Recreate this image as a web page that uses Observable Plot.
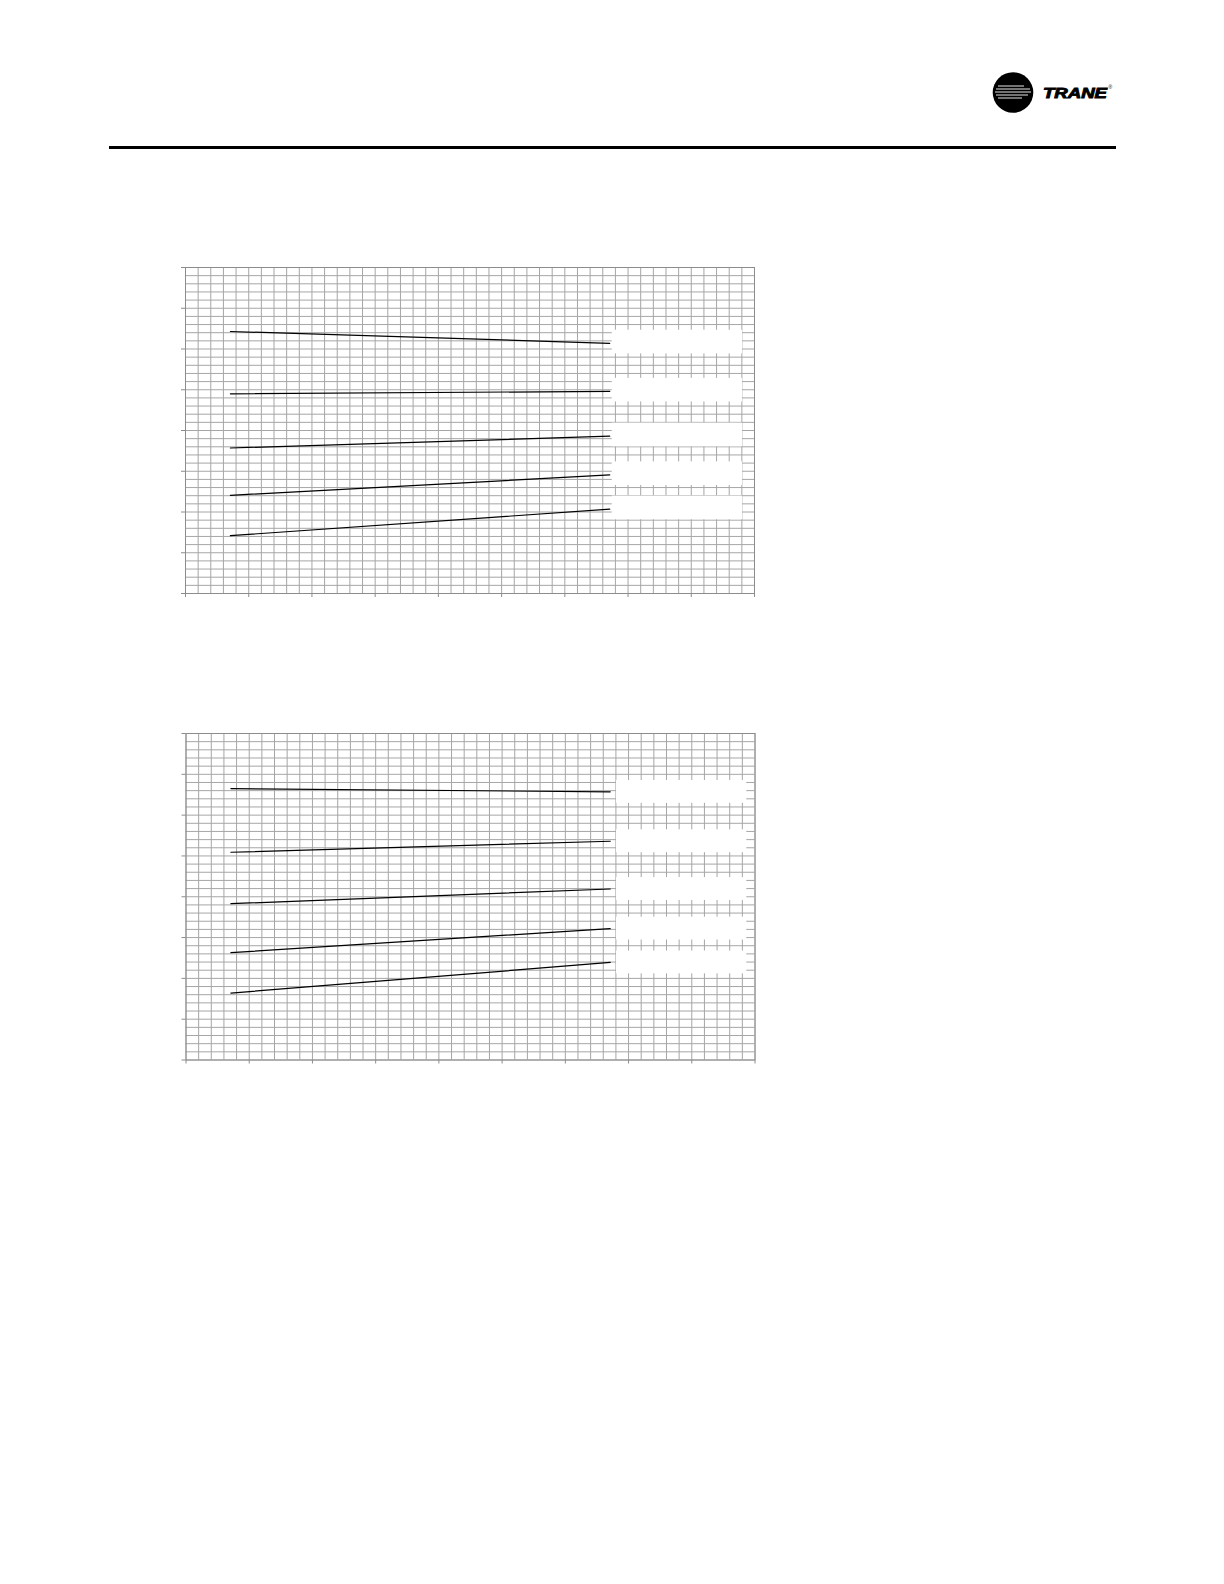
<!DOCTYPE html>
<html>
<head>
<meta charset="utf-8">
<script src="https://cdn.jsdelivr.net/npm/d3@7"></script>
<script src="https://cdn.jsdelivr.net/npm/@observablehq/plot@0.6"></script>
<style>
  html, body { margin: 0; padding: 0; background: #fff; }
  #page { position: relative; width: 1224px; height: 1584px; overflow: hidden; font-family: "Liberation Sans", Arial, sans-serif; }
  #rule { position: absolute; left: 109px; top: 146px; width: 1007px; height: 3px; background: #000; }
  #logo { position: absolute; left: 985px; top: 66px; }
  .chart { position: absolute; left: 0; }
</style>
</head>
<body>
<div id="page">
  <svg id="logo" width="135" height="54" viewBox="985 66 135 54">
    <circle cx="1013" cy="92.5" r="20.3" fill="#000"/>
    <g stroke="#fff" stroke-width="0.9">
      <line x1="998" y1="86" x2="1024" y2="86"/>
      <line x1="996" y1="89" x2="1030" y2="89"/>
      <line x1="995" y1="92" x2="1031" y2="92"/>
      <line x1="996" y1="95" x2="1028" y2="95"/>
      <line x1="998" y1="98" x2="1022" y2="98"/>
    </g>
    <text x="1043" y="97.5" font-family="Liberation Sans, Arial, sans-serif" font-size="14.5" font-weight="bold" font-style="italic" textLength="64" lengthAdjust="spacingAndGlyphs" fill="#000" stroke="#000" stroke-width="0.9">TRANE</text>
    <text x="1108.5" y="89" font-family="Liberation Sans, Arial, sans-serif" font-size="5" fill="#000">®</text>
  </svg>
  <div id="rule"></div>
  <div id="chart1" class="chart"></div>
  <div id="chart2" class="chart"></div>
</div>
<script>
// ---- data ----
const seriesNames = ["Curve 1", "Curve 2", "Curve 3", "Curve 4", "Curve 5"];
const xDomain = [0, 9];
const yDomain = [0, 8];
const xStart = 0.71;
const xEnd = 6.71;
const chart1Start = [6.43, 4.90, 3.57, 2.41, 1.42];
const chart1End   = [6.14, 4.96, 3.86, 2.91, 2.07];
const chart2Start = [6.65, 5.09, 3.83, 2.63, 1.64];
const chart2End   = [6.57, 5.36, 4.19, 3.22, 2.39];

// tick arrays
const xMajor = d3.range(xDomain[0], xDomain[1] + 1, 1);
const yMajor = d3.range(yDomain[0], yDomain[1] + 1, 1);
const xMinor = d3.ticks(xDomain[0], xDomain[1], 45);
const yMinor = d3.ticks(yDomain[0], yDomain[1], 40);

function buildRows(startVals, endVals) {
  const rows = [];
  seriesNames.forEach((name, i) => {
    rows.push({series: name, x: xStart, y: startVals[i]});
    rows.push({series: name, x: xEnd, y: endVals[i]});
  });
  return rows;
}
function buildEnds(endVals) {
  return seriesNames.map((name, i) => ({series: name, x: xEnd, y: endVals[i]}));
}

function makeChart(el, startVals, endVals, frame, box) {
  const mTop = 20, mBottom = 30, W = 800;
  const plotH = frame.bottom - frame.top;
  const chart = Plot.plot({
    width: W,
    height: mTop + plotH + mBottom,
    marginLeft: frame.left,
    marginRight: W - frame.right,
    marginTop: mTop,
    marginBottom: mBottom,
    style: {background: "transparent"},
    x: {domain: xDomain, label: null},
    y: {domain: yDomain, label: null},
    marks: [
      Plot.ruleX(xMinor, {stroke: "#a6a6a6", strokeWidth: 1, strokeOpacity: 1}),
      Plot.ruleY(yMinor, {stroke: "#a6a6a6", strokeWidth: 1, strokeOpacity: 1}),
      Plot.rect(buildEnds(endVals), {
        x1: d => d.x + box.gap, x2: box.right,
        y1: d => d.y - box.below, y2: d => d.y + box.above,
        fill: "#fff"
      }),
      Plot.frame({stroke: "#8c8c8c", strokeWidth: 1}),
      Plot.axisX({ticks: xMajor, tickSize: 4, tickFormat: () => "", stroke: "#8c8c8c", label: null}),
      Plot.axisY({ticks: yMajor, tickSize: 4, tickFormat: () => "", stroke: "#8c8c8c", label: null}),
      Plot.line(buildRows(startVals, endVals), {x: "x", y: "y", z: "series", stroke: "#000", strokeWidth: 1.2})
    ]
  });
  el.style.top = (frame.top - mTop) + "px";
  el.appendChild(chart);
}

makeChart(document.getElementById("chart1"), chart1Start, chart1End,
  {left: 185, right: 754, top: 266.5, bottom: 592.5},
  {gap: 0.04, right: 8.81, below: 0.26, above: 0.32});
makeChart(document.getElementById("chart2"), chart2Start, chart2End,
  {left: 185.5, right: 754.5, top: 733, bottom: 1059.5},
  {gap: 0.1, right: 8.87, below: 0.28, above: 0.28});
</script>
</body>
</html>
